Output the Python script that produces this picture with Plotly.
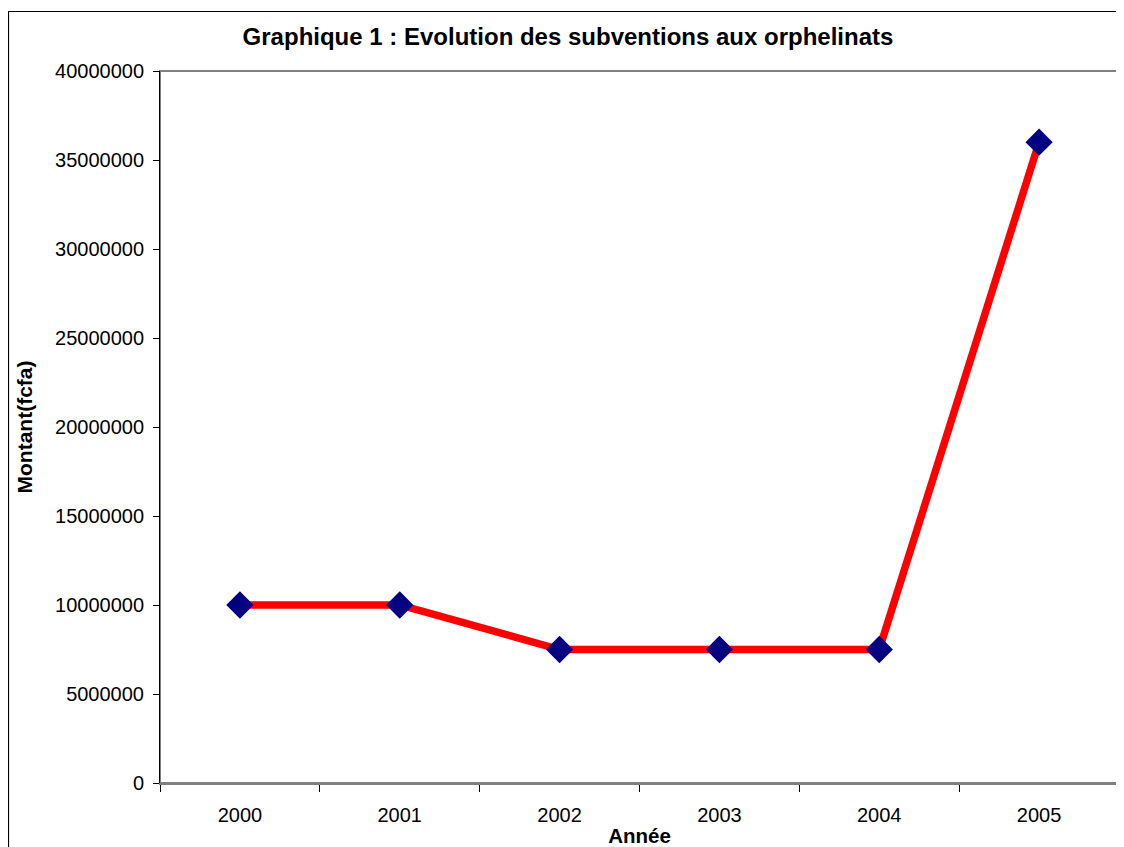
import plotly.graph_objects as go

years = ["2000", "2001", "2002", "2003", "2004", "2005"]
montants = [10000000, 10000000, 7500000, 7500000, 7500000, 36000000]
y_ticks = [0, 5000000, 10000000, 15000000, 20000000, 25000000, 30000000, 35000000, 40000000]

OFF = 8  # page body margin
W, H = 1124 - OFF, 847 - OFF
L, R, T, B = 160 - OFF, 1119 - OFF, 71 - OFF, 783 - OFF
FONT = "Liberation Sans, Arial, sans-serif"

def px(x):
    return (x - OFF - L) / (R - L)

def py(y):
    return (B - (y - OFF)) / (B - T)

fig = go.Figure()
fig.add_trace(go.Scatter(
    x=years, y=montants, mode="lines+markers",
    line=dict(color="#ff0000", width=7.5),
    marker=dict(symbol="diamond", size=21, color="#000080", line=dict(width=0)),
    showlegend=False, cliponaxis=False,
))

fig.update_layout(
    width=W, height=H,
    margin=dict(l=L, r=W - R, t=T, b=H - B),
    paper_bgcolor="white", plot_bgcolor="white",
    font=dict(family=FONT, size=20, color="black"),
    title=dict(text="<b>Graphique 1 : Evolution des subventions aux orphelinats</b>",
               x=px(568), xref="paper", xanchor="center",
               y=1 - (37 - OFF) / H, yanchor="middle",
               font=dict(size=24, family=FONT)),
    xaxis=dict(type="category", range=[-0.5, len(years) - 0.5], automargin=False,
               tickson="boundaries", ticks="outside", ticklen=7,
               tickcolor="black", tickwidth=1, showgrid=False, zeroline=False,
               showline=True, linecolor="#808080", linewidth=2,
               ticklabelstandoff=13,
               tickfont=dict(size=20), title=dict(text="<b>Année</b>", standoff=6,
               font=dict(size=20.5))),
    yaxis=dict(range=[0, 40000000], tickvals=y_ticks, tickformat="d", automargin=False,
               ticks="outside", ticklen=6, tickcolor="black", tickwidth=1,
               showgrid=False, zeroline=False, showline=True, linecolor="black",
               linewidth=1, ticklabelstandoff=5, tickfont=dict(size=20),
               title=dict(text="<b>Montant(fcfa)</b>", standoff=16, font=dict(size=21))),
    shapes=[
        dict(type="rect", xref="paper", yref="paper", x0=0, x1=1, y0=0, y1=1,
             line=dict(color="#808080", width=2), layer="below"),
        dict(type="rect", xref="paper", yref="paper",
             x0=px(8.5), x1=px(1140), y0=py(870), y1=py(11.5),
             line=dict(color="black", width=1.2), layer="above"),
    ],
)

fig.write_html("out.html")
